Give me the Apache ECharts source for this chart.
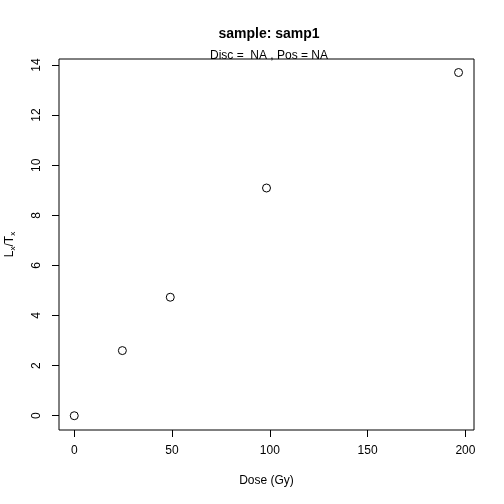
<!DOCTYPE html>
<html>
<head>
<meta charset="utf-8">
<script src="https://cdn.jsdelivr.net/npm/echarts@6/dist/echarts.min.js"></script>
<style>
html, body { margin: 0; padding: 0; background: #fff; }
#main { width: 504px; height: 504px; }
</style>
</head>
<body>
<div id="main"></div>
<script>
// dose points and Lx/Tx values
var dose = [0, 24.6, 49.1, 98.3, 196.5];
var lxtx = [0, 2.6, 4.73, 9.09, 13.7];
var xTicks = [0, 50, 100, 150, 200];
var yTicks = [0, 2, 4, 6, 8, 10, 12, 14];

var font = 'Liberation Sans, Arial, sans-serif';
var pts = dose.map(function (d, i) { return [d, lxtx[i]]; });

var option = {
	animation: false,
	backgroundColor: '#fff',
	title: [
		{
			text: 'sample: samp1',
			left: 264, top: 22, textAlign: 'center',
			textStyle: { fontFamily: font, fontSize: 14, fontWeight: 'bold', color: '#000' }
		},
		{
			text: 'Disc =  NA , Pos = NA',
			left: 264, top: 45, textAlign: 'center',
			textStyle: { fontFamily: font, fontSize: 12, fontWeight: 'normal', color: '#000' }
		}
	],
	grid: {
		left: 59, right: 30, top: 59, bottom: 74,
		outerBoundsMode: 'none',
		containLabel: false,
		show: true, borderColor: '#000', borderWidth: 1
	},
	xAxis: {
		type: 'value',
		min: -7.8, max: 204.4,
		name: 'Dose (Gy)',
		nameLocation: 'middle',
		nameGap: 45,
		nameTextStyle: { fontFamily: font, fontSize: 12, color: '#000' },
		axisLine: { show: false, onZero: false },
		splitLine: { show: false },
		axisTick: { show: true, length: 7, lineStyle: { color: '#000' }, customValues: xTicks },
		axisLabel: { margin: 15, fontFamily: font, fontSize: 12, color: '#000', customValues: xTicks }
	},
	yAxis: {
		type: 'value',
		min: -0.57, max: 14.24,
		name: 'L{s|x}/T{s|x}',
		nameLocation: 'middle',
		nameRotate: 90,
		nameGap: 42,
		nameTextStyle: {
			fontFamily: font, fontSize: 12, color: '#000',
			rich: { s: { fontFamily: font, fontSize: 8, color: '#000', verticalAlign: 'bottom', padding: [6, 0, 0, 0] } }
		},
		axisLine: { show: false, onZero: false },
		splitLine: { show: false },
		axisTick: { show: true, length: 7, lineStyle: { color: '#000' }, customValues: yTicks },
		axisLabel: { rotate: 90, margin: 16, fontFamily: font, fontSize: 12, color: '#000', customValues: yTicks }
	},
	series: [
		{
			type: 'scatter',
			data: pts,
			symbol: 'circle',
			symbolSize: 8,
			itemStyle: { color: '#fff', borderColor: '#000', borderWidth: 1, opacity: 1 }
		}
	]
};

var chart = echarts.init(document.getElementById('main'));
chart.setOption(option);
</script>
</body>
</html>
